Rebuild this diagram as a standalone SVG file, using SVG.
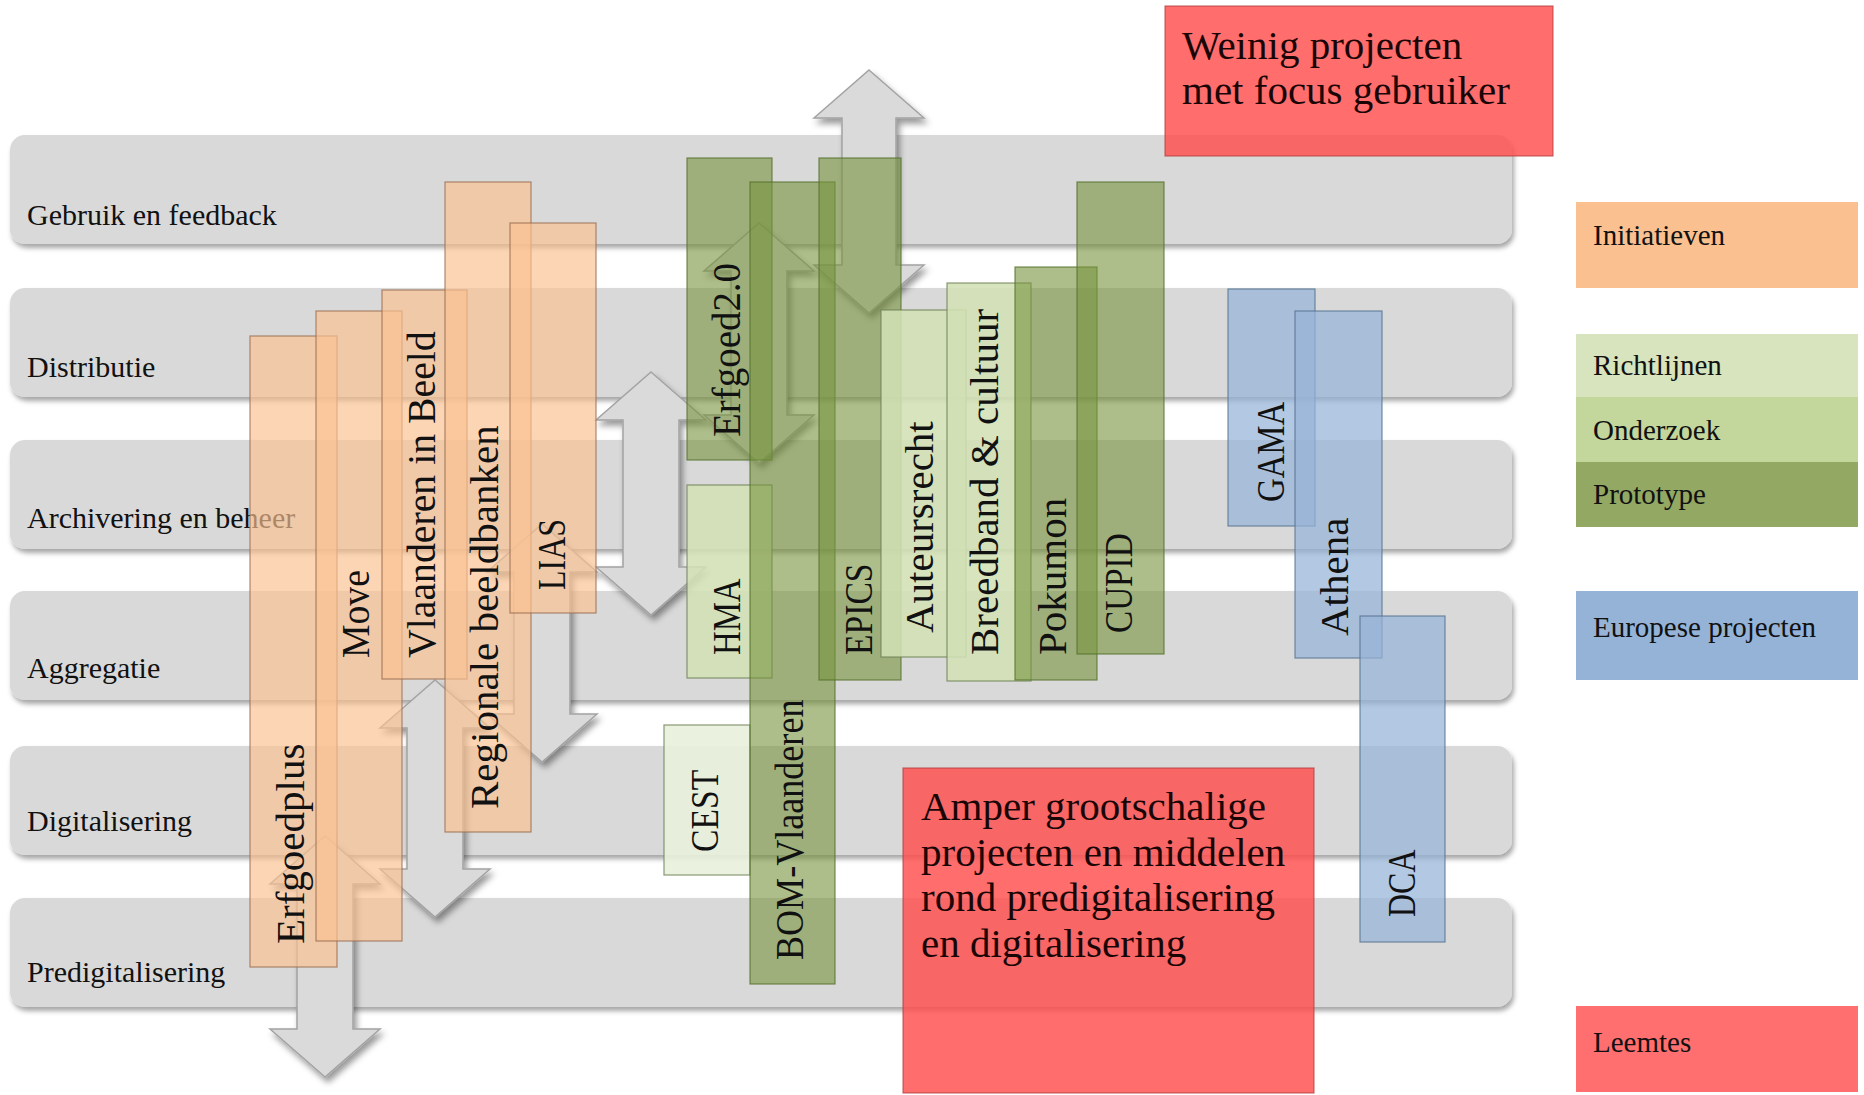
<svg xmlns="http://www.w3.org/2000/svg" width="1864" height="1095" viewBox="0 0 1864 1095">
<defs>
<filter id="shB" x="-5%" y="-20%" width="110%" height="160%"><feDropShadow dx="2" dy="4" stdDeviation="2.5" flood-color="#000" flood-opacity="0.35"/></filter>
<filter id="shA" x="-40%" y="-10%" width="180%" height="130%"><feDropShadow dx="3" dy="5" stdDeviation="3" flood-color="#000" flood-opacity="0.4"/></filter>
</defs>
<style>
.band{fill:#d9d9d9}
.bl{font-family:"Liberation Serif",serif;font-size:30px;fill:#111}
.arr{fill:#dadada;stroke:#a3a3a3;stroke-width:1.5}
.ini{fill:#fac090;fill-opacity:.67;stroke:#9a6e50;stroke-opacity:.8;stroke-width:1.2}
.pro{fill:#76923c;fill-opacity:.6;stroke:#55702c;stroke-opacity:.8;stroke-width:1.2}
.ric{fill:#d2e0b4;fill-opacity:.88;stroke:#6e7f55;stroke-opacity:.8;stroke-width:1.2}
.cest{fill:#e8efdb;fill-opacity:.9;stroke:#6e7f55;stroke-opacity:.8;stroke-width:1.2}
.eu{fill:#95b3d7;fill-opacity:.72;stroke:#55708f;stroke-opacity:.8;stroke-width:1.2}
.gap{fill:#ff4d4d;fill-opacity:.82;stroke:#b03a3a;stroke-opacity:.7;stroke-width:1.2}
.vt{font-family:"Liberation Serif",serif;font-size:41px;fill:#111}
.gt{font-family:"Liberation Serif",serif;font-size:41px;fill:#1a0505}
.lt{font-family:"Liberation Serif",serif;font-size:29px;fill:#111}
</style>
<rect width="1864" height="1095" fill="#fff"/>

<g id="bands" filter="url(#shB)">
<g id="band-gebruik"><rect class="band" x="10" y="135" width="1502" height="109" rx="15"/></g>
<g id="band-distributie"><rect class="band" x="10" y="288" width="1502" height="109" rx="15"/></g>
<g id="band-archivering"><rect class="band" x="10" y="440" width="1502" height="109" rx="15"/></g>
<g id="band-aggregatie"><rect class="band" x="10" y="591" width="1502" height="109" rx="15"/></g>
<g id="band-digitalisering"><rect class="band" x="10" y="746" width="1502" height="109" rx="15"/></g>
<g id="band-predigitalisering"><rect class="band" x="10" y="898" width="1502" height="109" rx="15"/></g>
</g>
<g id="band-labels">
<text class="bl" x="27" y="225">Gebruik en feedback</text>
<text class="bl" x="27" y="377">Distributie</text>
<text class="bl" x="27" y="528">Archivering en beheer</text>
<text class="bl" x="27" y="678">Aggregatie</text>
<text class="bl" x="27" y="831">Digitalisering</text>
<text class="bl" x="27" y="982">Predigitalisering</text>
</g>

<g id="connectors" filter="url(#shA)">
<path class="arr" d="M869,70 L924,118 L896,118 L896,265 L924,265 L869,313 L814,265 L842,265 L842,118 L814,118 Z"/>
<path class="arr" d="M759,223 L814,271 L787,271 L787,415 L814,415 L759,463 L704,415 L731,415 L731,271 L704,271 Z"/>
<path class="arr" d="M651,372 L706,420 L679,420 L679,567 L706,567 L651,615 L596,567 L623,567 L623,420 L596,420 Z"/>
<path class="arr" d="M542,524 L597,572 L570,572 L570,714 L597,714 L542,762 L487,714 L514,714 L514,572 L487,572 Z"/>
<path class="arr" d="M435,680 L490,728 L463,728 L463,869 L490,869 L435,917 L380,869 L407,869 L407,728 L380,728 Z"/>
<path class="arr" d="M325,836 L380,884 L353,884 L353,1029 L380,1029 L325,1077 L270,1029 L297,1029 L297,884 L270,884 Z"/>
</g>

<g id="initiatieven">
<g id="n-erfgoedplus"><rect class="ini" x="250" y="336" width="87" height="631"/><text class="vt" transform="translate(304,944) rotate(-90)">Erfgoedplus</text></g>
<g id="n-move"><rect class="ini" x="316" y="311" width="86" height="630"/><text class="vt" transform="translate(369,658) rotate(-90) scale(0.92,1)">Move</text></g>
<g id="n-vlaanderen"><rect class="ini" x="382" y="290" width="85" height="389"/><text class="vt" transform="translate(435,658) rotate(-90) scale(0.97,1)">Vlaanderen in Beeld</text></g>
<g id="n-regionale"><rect class="ini" x="445" y="182" width="86" height="650"/><text class="vt" transform="translate(498,809) rotate(-90)">Regionale beeldbanken</text></g>
<g id="n-lias"><rect class="ini" x="510" y="223" width="86" height="390"/><text class="vt" transform="translate(565,590) rotate(-90) scale(0.78,1)">LIAS</text></g>
</g>

<g id="vlaamse-projecten">
<g id="n-erfgoed20"><rect class="pro" x="687" y="158" width="85" height="302"/><text class="vt" transform="translate(740,437) rotate(-90) scale(0.95,1)">Erfgoed2.0</text></g>
<g id="n-hma"><rect class="ric" x="687" y="485" width="85" height="193"/><text class="vt" transform="translate(740,655) rotate(-90) scale(0.8,1)">HMA</text></g>
<g id="n-cest"><rect class="cest" x="664" y="725" width="86" height="150"/><text class="vt" transform="translate(718,852) rotate(-90) scale(0.82,1)">CEST</text></g>
<g id="n-bom"><rect class="pro" x="750" y="182" width="85" height="802"/><text class="vt" transform="translate(803,960) rotate(-90) scale(0.88,1)">BOM-Vlaanderen</text></g>
<g id="n-epics"><rect class="pro" x="819" y="158" width="82" height="522"/><text class="vt" transform="translate(872,655) rotate(-90) scale(0.82,1)">EPICS</text></g>
<g id="n-auteursrecht"><rect class="ric" x="881" y="310" width="85" height="347"/><text class="vt" transform="translate(933,633) rotate(-90)">Auteursrecht</text></g>
<g id="n-breedband"><rect class="ric" x="947" y="283" width="84" height="398"/><text class="vt" transform="translate(998,655) rotate(-90)">Breedband &amp; cultuur</text></g>
<g id="n-pokumon"><rect class="pro" x="1015" y="267" width="82" height="413"/><text class="vt" transform="translate(1066,655) rotate(-90)">Pokumon</text></g>
<g id="n-cupid"><rect class="pro" x="1077" y="182" width="87" height="472"/><text class="vt" transform="translate(1132,633) rotate(-90) scale(0.81,1)">CUPID</text></g>
</g>

<g id="europese-projecten">
<g id="n-gama"><rect class="eu" x="1228" y="289" width="87" height="237"/><text class="vt" transform="translate(1284,502) rotate(-90) scale(0.8,1)">GAMA</text></g>
<g id="n-athena"><rect class="eu" x="1295" y="311" width="87" height="347"/><text class="vt" transform="translate(1348,636) rotate(-90)">Athena</text></g>
<g id="n-dca"><rect class="eu" x="1360" y="616" width="85" height="326"/><text class="vt" transform="translate(1415,917) rotate(-90) scale(0.78,1)">DCA</text></g>
</g>

<g id="leemtes">
<g id="n-weinig"><rect class="gap" x="1165" y="6" width="388" height="150"/>
<text class="gt" x="1182" y="59">Weinig projecten</text>
<text class="gt" x="1182" y="104">met focus gebruiker</text></g>
<g id="n-amper"><rect class="gap" x="903" y="768" width="411" height="325"/>
<text class="gt" x="921" y="820">Amper grootschalige</text>
<text class="gt" x="921" y="866">projecten en middelen</text>
<text class="gt" x="921" y="911">rond predigitalisering</text>
<text class="gt" x="921" y="957">en digitalisering</text></g>
</g>

<g id="legend">
<g id="l-initiatieven"><rect x="1576" y="202" width="282" height="86" fill="#fac090"/><text class="lt" x="1593" y="245">Initiatieven</text></g>
<g id="l-richtlijnen"><rect x="1576" y="334" width="282" height="63" fill="#d7e4bd"/><text class="lt" x="1593" y="375">Richtlijnen</text></g>
<g id="l-onderzoek"><rect x="1576" y="397" width="282" height="65" fill="#c3d69b"/><text class="lt" x="1593" y="440">Onderzoek</text></g>
<g id="l-prototype"><rect x="1576" y="462" width="282" height="65" fill="#92a863"/><text class="lt" x="1593" y="504">Prototype</text></g>
<g id="l-europese"><rect x="1576" y="591" width="282" height="89" fill="#95b3d7"/><text class="lt" x="1593" y="637">Europese projecten</text></g>
<g id="l-leemtes"><rect x="1576" y="1006" width="282" height="86" fill="#ff6f6f"/><text class="lt" x="1593" y="1052">Leemtes</text></g>
</g>
</svg>
